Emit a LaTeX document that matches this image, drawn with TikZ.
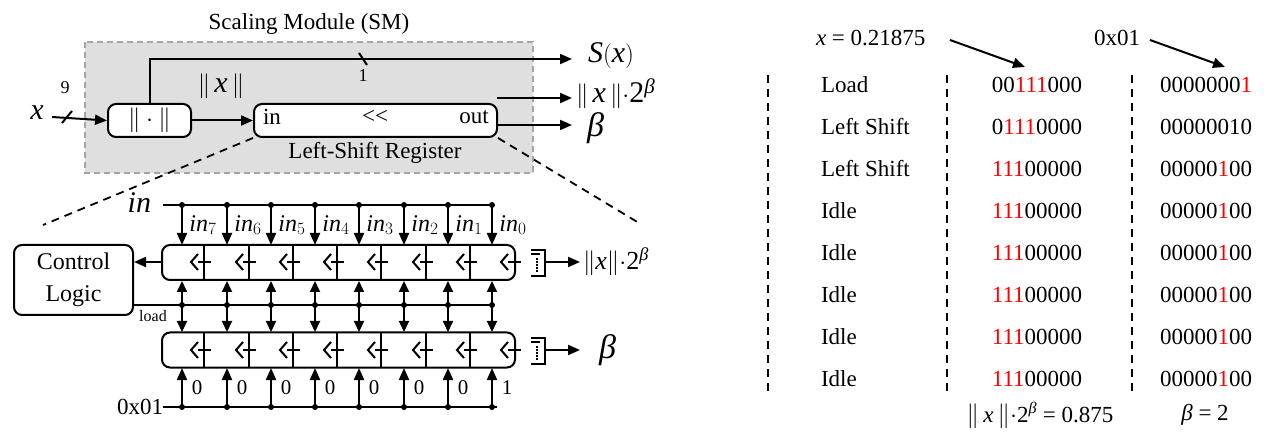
\documentclass[tikz,border=0pt]{standalone}
\usepackage{fontspec}
\setmainfont{Liberation Serif}
\usetikzlibrary{arrows.meta}
\newcommand{\bt}{\textit{β}}
\begin{document}
\begin{tikzpicture}[x=1pt,y=-1pt,line width=2pt,
  arr/.style={-{Triangle[length=12pt,width=10pt]}},
  darr/.style={{Triangle[length=11pt,width=10pt]}-{Triangle[length=11pt,width=10pt]}},
  dot/.style={circle,fill,inner sep=0pt,minimum size=6pt},
  box/.style={draw,rounded corners=8pt,line width=2pt},
  lab/.style={inner sep=0pt,font=\fontsize{23}{26}\selectfont},
  big/.style={inner sep=0pt,font=\fontsize{30}{32}\selectfont},
  dsh/.style={line width=1.8pt,dash pattern=on 8pt off 6pt}]
\useasboundingbox (0,0) rectangle (1279,443);
% ---- Scaling module
\node[lab] (title) at (309,24) {Scaling Module (SM)};
\fill[gray!25] (85,42) rectangle (533,173);
\draw[gray!70,line width=1.5pt,dash pattern=on 6pt off 4pt] (85,42) rectangle (533,173);
\node[box,minimum width=83pt,minimum height=33pt,fill=white] (abs) at (149.5,120.5) {};
\node[lab] at (abs) {$\|\cdot\|$};
\node[box,minimum width=243pt,minimum height=33pt,fill=white] (reg) at (375.5,120.5) {};
\node[lab] (rin) at (272,117) {in};
\node[lab] (rsh) at (375,117) {<{}<};
\node[lab] (rout) at (474,117) {out};
\node[lab] (lsr) at (375,153) {Left-Shift Register};
\node[big] (xl) at (37,113) {\textit{x}};
\coordinate (xs) at (52,117);
\draw[arr] (xs) -- (abs.west);
\draw (62,123) -- (72,111);
\node[inner sep=0pt,font=\fontsize{18}{20}\selectfont] (nine) at (65,88) {9};
\coordinate (sa) at (150,104);
\coordinate (sb) at (150,59);
\coordinate (se) at (572,59);
\draw[arr] (sa) -- (sb) -- (se);
\draw (359,53) -- (367,65);
\node[inner sep=0pt,font=\fontsize{18}{20}\selectfont] (one) at (363,76) {1};
\node[big] (Sx) at (611,56) {\textit{S}$\big($\textit{x}$\big)$};
\node[big] (nx) at (221,86) {$\|\,$\textit{x}$\,\|$};
\draw[arr] (abs.east) -- (reg.west);
\coordinate (o1) at (497,98);
\coordinate (o2) at (497,125);
\draw[arr] (o1) -- (572,98);
\draw[arr] (o2) -- (572,125);
\node[big,anchor=west] (ol1) at (575,94) {$\|\,$\textit{x}$\,\|\cdot$2\textsuperscript{\bt}};
\node[anchor=west,inner sep=0pt,font=\fontsize{34}{36}\selectfont] (ol2) at (586,128) {\bt};
\coordinate (dl) at (43,225);
\coordinate (dr) at (639,223);
\draw[dsh] (reg.south west) -- (dl);
\draw[dsh] (reg.south east) -- (dr);
% ---- detailed registers
\node[big,anchor=east] (inl) at (152,203) {\textit{in}};
\draw (163,205) -- (492,205);
\node[box,minimum width=353pt,minimum height=35pt] (r1) at (338.5,262.5) {};
\node[box,minimum width=353pt,minimum height=35pt] (r2) at (338.5,350) {};
\node[box,minimum width=119pt,minimum height=70pt,align=center,font=\fontsize{24}{32}\selectfont] (cl) at (73.5,280) {Control\\Logic};
\draw[arr] (162,262) -- (cl.east |- 0,262);
\draw (133,305) -- (492,305);
\node[inner sep=0pt,font=\fontsize{16}{18}\selectfont] (ld) at (153,316) {load};
\node[lab,anchor=east] (hex) at (164,407) {0x01};
\draw (163,407) -- (497,407);
\foreach \i/\c in {0/182,1/227,2/271,3/315,4/359,5/404,6/448,7/492}{
  \pgfmathtruncatemacro{\k}{7-\i}
  \node[dot] at (\c,205) {};
  \draw[arr] (\c,205) -- (\c,245);
  \node[inner sep=0pt,font=\fontsize{24}{26}\selectfont] at (\c+21,225) {\textit{in}$_{\k}$};
  \node[dot] at (\c,305) {};
  \draw[darr] (\c,281) -- (\c,332);
  \node[dot] at (\c,407) {};
  \draw[arr] (\c,407) -- (\c,368);
  \node[inner sep=0pt,font=\fontsize{21}{24}\selectfont] at (\c+15,388) {\ifnum\i=7 1\else 0\fi};
  \foreach \yy in {262,350}{
    \draw (\c+16,\yy-8) -- (\c+9,\yy) -- (\c+16,\yy+8);
    \draw (\c+16,\yy) -- (\c+29,\yy);
  }
  \ifnum\i<7
    \draw (\c+22.3,245) -- (\c+22.3,280);
    \draw (\c+22.3,333) -- (\c+22.3,367);
  \fi
}
\foreach \yy in {262,350}{
  \draw (531,\yy-12) -- (545,\yy-12) -- (545,\yy+14) -- (531,\yy+14);
  \draw (531,\yy-8) -- (540,\yy-8);
  \draw[densely dotted,line width=2pt] (537,\yy-4) -- (537,\yy+10);
  \draw[arr] (545,\yy) -- (580,\yy);
}
\node[inner sep=0pt,anchor=west,font=\fontsize{26}{28}\selectfont] (o3) at (582,262) {$\|$\textit{x}$\|\cdot$2\textsuperscript{\bt}};
\node[anchor=west,inner sep=0pt,font=\fontsize{34}{36}\selectfont] (o4) at (598,350) {\bt};
% ---- table
\node[lab,anchor=west] (x0) at (815,38) {\textit{x} = 0.21875};
\node[lab,anchor=west] (h0) at (1093,38) {0x01};
\coordinate (t1) at (1025,67);
\coordinate (t2) at (1225,67);
\draw[arr] (950,40) -- (t1);
\draw[arr] (1150,40) -- (t2);
\foreach \xx in {768,947,1132}{\draw[dsh] (\xx,75) -- (\xx,392);}
\def\R#1{\textcolor{red}{#1}}
\foreach \n/\a/\b [count=\j from 0] in {
  Load/00\R{111}000/0000000\R{1},
  Left Shift/0\R{111}0000/00000010,
  Left Shift/\R{111}00000/00000\R{1}00,
  Idle/\R{111}00000/00000\R{1}00,
  Idle/\R{111}00000/00000\R{1}00,
  Idle/\R{111}00000/00000\R{1}00,
  Idle/\R{111}00000/00000\R{1}00,
  Idle/\R{111}00000/00000\R{1}00}{
  \node[lab,anchor=west] at (820,85+42*\j) {\n};
  \node[lab] at (1037,85+42*\j) {\a};
  \node[lab] at (1206,85+42*\j) {\b};
}
\node[lab] (res1) at (1040,415) {$\|\,$\textit{x}$\,\|\cdot$2\textsuperscript{\bt} = 0.875};
\node[lab] (res2) at (1205,415) {\bt{} = 2};
\end{tikzpicture}
\end{document}
